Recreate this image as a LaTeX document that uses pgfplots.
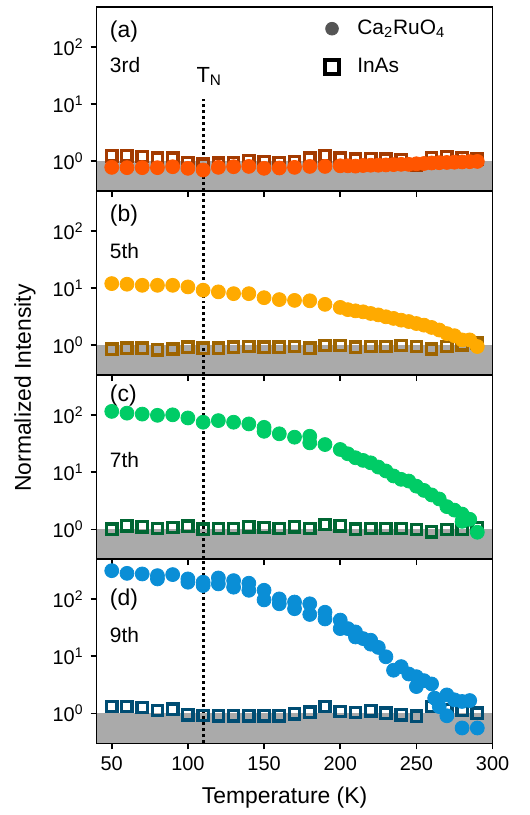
\documentclass[border=0pt]{standalone}
\usepackage{pgfplots}
\pgfplotsset{compat=1.18}
\usepackage{pgfplotstable}
\usepgfplotslibrary{groupplots}
\usepackage{fontspec}
\setmainfont{Liberation Sans}

\definecolor{aC}{HTML}{FF5500}
\definecolor{aS}{HTML}{A33A00}
\definecolor{bC}{HTML}{FFAA00}
\definecolor{bS}{HTML}{9E6400}
\definecolor{cC}{HTML}{00CC66}
\definecolor{cS}{HTML}{006633}
\definecolor{dC}{HTML}{0A8ED6}
\definecolor{dS}{HTML}{004D73}
\definecolor{bggray}{HTML}{AAAAAA}
\definecolor{leggray}{HTML}{555555}

\pgfplotstableread{
T v
50 1.24
60 1.24
70 1.21
80 1.13
90 1.13
100 0.95
110 0.89
120 0.92
130 0.95
140 1.01
150 0.99
160 0.95
170 0.99
180 1.13
190 1.24
200 1.13
210 1.08
220 1.11
230 1.08
240 1.05
250 0.86
260 1.16
270 1.21
280 1.16
290 1.08
}\aSq
\pgfplotstableread{
T v
50 0.78
60 0.77
70 0.77
80 0.77
90 0.80
100 0.75
110 0.70
120 0.78
130 0.80
140 0.81
150 0.75
160 0.76
170 0.78
180 0.81
190 0.81
200 0.83
205 0.83
210 0.82
215 0.84
220 0.85
225 0.85
230 0.86
235 0.87
240 0.88
245 0.88
250 0.90
255 0.91
260 0.93
265 0.94
270 0.95
275 0.96
280 0.97
285 0.98
290 0.99
}\aCi
\pgfplotstableread{
T v
50 0.85
60 0.89
70 0.89
80 0.83
90 0.86
100 0.92
110 0.89
120 0.89
130 0.92
140 0.95
150 0.92
160 0.92
170 0.95
180 0.89
190 0.99
200 0.99
210 0.92
220 0.95
230 0.95
240 0.99
250 0.95
260 0.86
270 0.95
280 1.01
290 1.08
}\bSq
\pgfplotstableread{
T v
50 12.0
60 11.7
70 11.2
80 11.2
90 11.2
100 10.5
110 9.2
120 8.6
130 8.0
140 8.0
150 6.8
160 6.3
170 6.1
180 6.0
190 5.2
200 4.6
205 4.2
210 4.0
215 3.85
220 3.6
225 3.4
230 3.15
235 2.95
240 2.75
245 2.6
250 2.4
255 2.25
260 2.05
265 1.85
270 1.6
275 1.47
280 1.24
285 1.24
290 0.95
}\bCi
\pgfplotstableread{
T v
50 1.01
60 1.16
70 1.11
80 1.04
90 1.08
100 1.13
110 1.01
120 1.04
130 1.04
140 1.11
150 1.08
160 1.04
170 1.11
180 1.04
190 1.21
200 1.16
210 1.01
220 1.04
230 1.04
240 1.04
250 0.99
260 0.91
270 0.99
280 1.01
290 1.08
}\cSq
\pgfplotstableread{
T v
50 116
60 108
70 104
80 99
90 101
100 89
110 75
120 80
130 75
140 70
150 61
150 52
160 47
170 41
180 42.6
180 32.6
190 30.5
200 25
205 21
210 17.9
215 16.1
220 14.6
225 12.3
230 10.5
235 8.6
240 7.5
245 7.0
250 5.7
255 4.8
260 4.0
265 3.4
270 2.5
275 2.17
280 1.85
280 1.38
285 1.5
290 0.89
}\cCi
\pgfplotstableread{
T v
50 1.32
60 1.32
70 1.27
80 1.13
90 1.19
100 0.95
110 0.92
120 0.91
130 0.91
140 0.91
150 0.91
160 0.91
170 0.99
180 1.05
190 1.32
200 1.08
210 1.04
220 1.11
230 1.01
240 0.95
250 0.89
260 1.32
270 1.16
280 1.13
290 1.01
}\dSq
\pgfplotstableread{
T v
50 315
60 283
70 276
80 258
80 226
90 269
100 226
100 198
110 173
110 198
120 235
120 185
130 211
130 162
140 190
140 143
150 143
150 97
160 101
160 83
170 89
170 68
180 83
180 54
190 59
190 45
200 43
200 30.5
205 30.5
210 26.7
210 21.8
215 20.4
220 19.1
220 16.3
225 14.3
230 9.8
235 5.7
240 6.6
245 4.9
250 4.4
250 2.95
255 3.75
260 3.28
262 1.85
265 1.32
270 2.11
270 0.91
275 1.73
280 1.62
280 0.556
285 1.68
290 0.556
}\dCi

\pgfplotsset{
  circ/.style={only marks, mark=*, forget plot, color=#1, mark options={draw=#1, fill=#1, mark size=3.5pt, line width=0.4pt}},
  sq/.style={only marks, mark=square, forget plot, color=#1, mark options={solid, draw=#1, line width=1.7pt, mark size=2.6pt}},
}
\tikzset{tnline/.style={line width=1.6pt, dash pattern=on 1.5pt off 1.5pt}}

\begin{document}
\begin{tikzpicture}
\begin{groupplot}[
  group style={group size=1 by 4, vertical sep=0pt, xticklabels at=edge bottom},
  width=199pt, height=92.5pt, scale only axis,
  xmin=40, xmax=300, ymin=0.3, ymax=500,
  ymode=log,
  xtick={50,100,150,200,250,300},
  xticklabels={50,100,150,200,250,300},
  ytick={1,10,100},
  yticklabels={10\textsuperscript{0},10\textsuperscript{1},10\textsuperscript{2}},
  yminorticks=false,
  xtick pos=bottom, ytick pos=left,
  tick align=outside,
  major tick length=3pt,
  axis line style={line width=0.8pt},
  every tick/.style={line width=0.8pt, black},
  tick label style={font=\fontsize{10}{12}\selectfont},
  axis on top=true,
  clip=false,
]
% ---------------- (a)
\nextgroupplot[
  legend style={at={(rel axis cs:0.56,0.975)}, anchor=north west, draw=none, fill=none,
    font=\fontsize{10.5}{12.6}\selectfont, row sep=6.5pt, column sep=7pt},
  legend cell align=left,
]
\addlegendimage{only marks, mark=*, color=leggray, mark options={draw=leggray, fill=leggray, mark size=3.2pt}}
\addlegendentry{Ca\textsubscript{2}RuO\textsubscript{4}}
\addlegendimage{only marks, mark=square, color=black, mark options={draw=black, line width=2pt, mark size=3.7pt}}
\addlegendentry{InAs}
\fill[bggray] (axis cs:40,0.3) rectangle (axis cs:300,1);
\addplot[sq=aS] table[x=T,y=v]{\aSq};
\addplot[circ=aC] table[x=T,y=v]{\aCi};
\draw[tnline] (axis cs:110,0.3) -- (axis cs:110,13.5);
\node[anchor=base, font=\fontsize{11}{13}\selectfont, inner sep=0pt] at (axis cs:114,24) {T\textsubscript{N}};
\node[anchor=west, inner sep=0pt, font=\fontsize{11.5}{14}\selectfont] at (rel axis cs:0.033,0.865) {(a)};
\node[anchor=west, inner sep=0pt, font=\fontsize{10.5}{12.6}\selectfont] at (rel axis cs:0.033,0.686) {3rd};
% ---------------- (b)
\nextgroupplot
\fill[bggray] (axis cs:40,0.3) rectangle (axis cs:300,1);
\addplot[sq=bS] table[x=T,y=v]{\bSq};
\addplot[circ=bC] table[x=T,y=v]{\bCi};
\draw[tnline] (axis cs:110,0.3) -- (axis cs:110,500);
\node[anchor=west, inner sep=0pt, font=\fontsize{11.5}{14}\selectfont] at (rel axis cs:0.033,0.865) {(b)};
\node[anchor=west, inner sep=0pt, font=\fontsize{10.5}{12.6}\selectfont] at (rel axis cs:0.033,0.676) {5th};
% ---------------- (c)
\nextgroupplot
\fill[bggray] (axis cs:40,0.3) rectangle (axis cs:300,1);
\addplot[sq=cS] table[x=T,y=v]{\cSq};
\addplot[circ=cC] table[x=T,y=v]{\cCi};
\draw[tnline] (axis cs:110,0.3) -- (axis cs:110,500);
\node[anchor=west, inner sep=0pt, font=\fontsize{11.5}{14}\selectfont] at (rel axis cs:0.033,0.89) {(c)};
\node[anchor=west, inner sep=0pt, font=\fontsize{10.5}{12.6}\selectfont] at (rel axis cs:0.033,0.54) {7th};
\node[rotate=90, font=\fontsize{11.5}{14}\selectfont] at (rel axis cs:-0.181,0.93) {Normalized Intensity};
% ---------------- (d)
\nextgroupplot[xlabel={Temperature (K)}, xlabel style={font=\fontsize{11.5}{14}\selectfont, xshift=-5pt, yshift=-1.5pt}]
\fill[bggray] (axis cs:40,0.3) rectangle (axis cs:300,1);
\addplot[sq=dS] table[x=T,y=v]{\dSq};
\addplot[circ=dC] table[x=T,y=v]{\dCi};
\draw[tnline] (axis cs:110,0.3) -- (axis cs:110,500);
\node[anchor=west, inner sep=0pt, font=\fontsize{11.5}{14}\selectfont] at (rel axis cs:0.033,0.78) {(d)};
\node[anchor=west, inner sep=0pt, font=\fontsize{10.5}{12.6}\selectfont] at (rel axis cs:0.033,0.59) {9th};
\end{groupplot}
\path ([xshift=-48.5pt,yshift=3.5pt]group c1r1.north west) rectangle ([xshift=217.5pt,yshift=-404pt]group c1r1.north west);
\end{tikzpicture}
\end{document}
